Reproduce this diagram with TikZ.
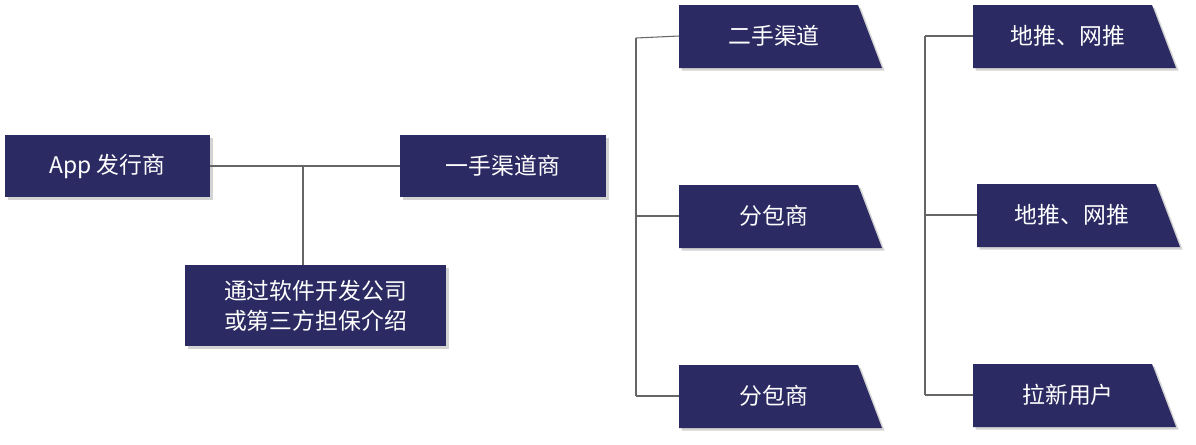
\documentclass[tikz,border=0pt]{standalone}
\usepackage{fontspec}
\setmainfont{Noto Sans CJK SC}
\definecolor{navy}{HTML}{2B2A63}
\tikzset{
  box/.style={fill=navy, text=white, font=\fontsize{13}{17}\selectfont, inner sep=0pt,
    drop shadow={shadow xshift=1.5pt, shadow yshift=-1.5pt, opacity=0.35}},
  line/.style={draw=gray!80!black, line width=0.6pt},
  label/.style={text=white, font=\fontsize{13}{17}\selectfont}
}
\usetikzlibrary{shadows}
% slanted box: name, left x, top y, text
\newcommand{\slantbox}[4]{%
  \fill[navy, drop shadow={shadow xshift=1.5pt, shadow yshift=-1.5pt, opacity=0.35}]
    (#2,#3) -- ++(179,0) -- ++(24,63) -- ++(-203,0) -- cycle;
  \coordinate (#1-w) at (#2,#3+31);
  \node[label] (#1) at (#2+95,#3+31) {#4};
}
\begin{document}
\begin{tikzpicture}[x=0.02cm, y=-0.02cm]
  \useasboundingbox (0,0) rectangle (1196,444);

  % Left part
  \node[box, minimum width=4.1cm, minimum height=1.24cm] (app) at (107.5,166) {App 发行商};
  \node[box, minimum width=4.12cm, minimum height=1.24cm] (first) at (503,166) {一手渠道商};
  \node[box, minimum width=5.22cm, minimum height=1.62cm, align=center] (intro) at (315.5,305.5)
    {通过软件开发公司\\或第三方担保介绍};
  \coordinate (join) at (303,167);
  \draw[line] (app.east) -- (first.west);
  \draw[line] (join) -- (intro.north -| join);

  % Second level
  \slantbox{second}{679}{5}{二手渠道}
  \slantbox{sub1}{679}{185}{分包商}
  \slantbox{sub2}{679}{365}{分包商}
  \coordinate (b1) at (636,38);
  \coordinate (b2) at (636,396);
  \draw[line] (b1) -- (b2);
  \draw[line] (b1) -- (second-w);
  \draw[line] (sub1-w -| b1) -- (sub1-w);
  \draw[line] (sub2-w -| b1) -- (sub2-w);

  % Third level
  \slantbox{push1}{973}{5}{地推、网推}
  \slantbox{push2}{977}{184}{地推、网推}
  \slantbox{users}{973}{364}{拉新用户}
  \coordinate (c1) at (925,36);
  \coordinate (c2) at (925,395);
  \draw[line] (c1) -- (c2);
  \draw[line] (c1) -- (push1-w);
  \draw[line] (push2-w -| c1) -- (push2-w);
  \draw[line] (users-w -| c1) -- (users-w);
\end{tikzpicture}
\end{document}
